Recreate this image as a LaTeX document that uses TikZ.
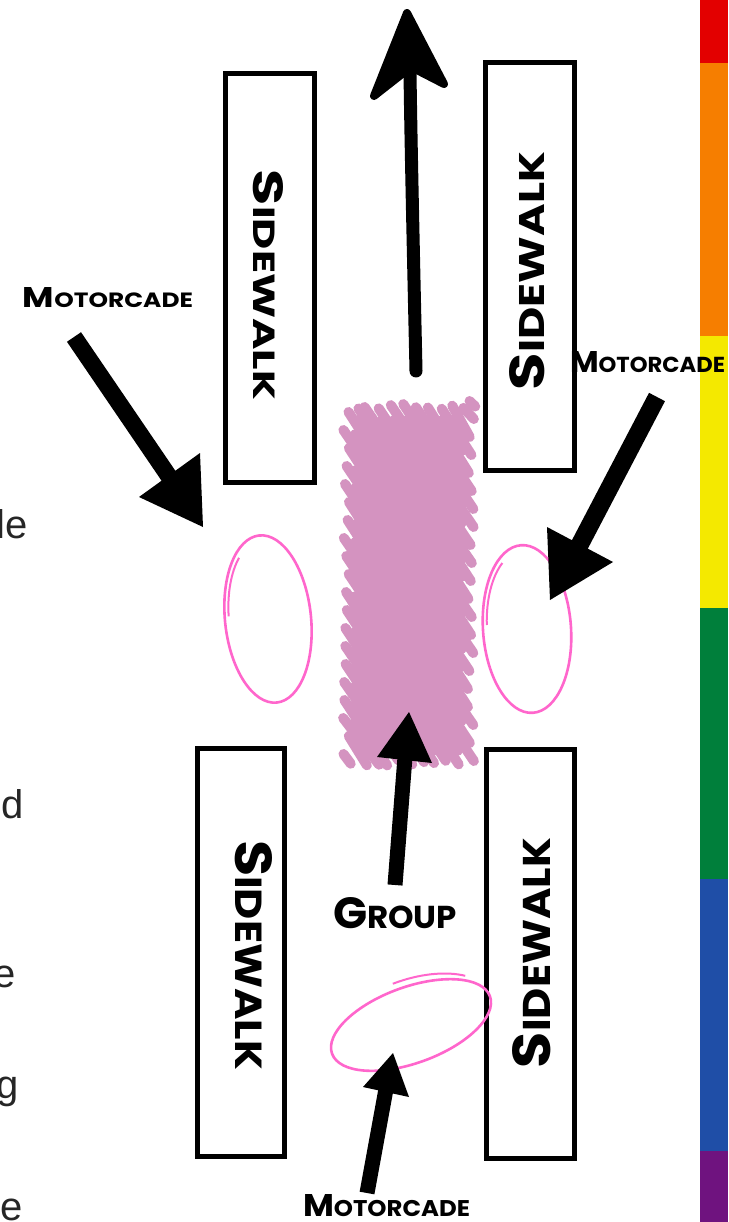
\documentclass[tikz,border=0pt]{standalone}
\usepackage{fontspec}
\usepackage{graphicx}
\usetikzlibrary{calc}
\newfontfamily\handfont{Poppins}
\newfontfamily\plainfont{Liberation Sans}
\definecolor{rbred}{HTML}{E30000}
\definecolor{rborange}{HTML}{F67E00}
\definecolor{rbyellow}{HTML}{F4E900}
\definecolor{rbgreen}{HTML}{007F3B}
\definecolor{rbblue}{HTML}{1F4EA7}
\definecolor{rbpurple}{HTML}{6F137F}
\definecolor{circpink}{HTML}{FF66CC}
\definecolor{grouppink}{HTML}{D493C0}
\newcommand\smcaps[2]{{\fontsize{40pt}{40pt}\selectfont #1}{\fontsize{29pt}{29pt}\selectfont #2}}
\tikzset{
  walk/.style={draw=black, line width=5pt, fill=white, inner sep=0pt, outer sep=0pt},
  hand/.style={inner sep=0pt, outer sep=0pt, font=\handfont\bfseries},
  sidetxt/.style={inner sep=0pt, outer sep=0pt, font=\plainfont\fontsize{40pt}{40pt}\selectfont, text=black!85},
  pinkline/.style={draw=circpink, line width=2.6pt},
  scrib/.style={draw=grouppink, line width=10pt, line cap=round},
  shaft/.style={draw=black, line cap=butt},
}
\begin{document}
\begin{tikzpicture}[x=1pt,y=-1pt]
\useasboundingbox (0,0) rectangle (728,1222);
\fill[white] (0,0) rectangle (728,1222);
% rainbow bar
\fill[rbred] (700,0) rectangle (728,63);
\fill[rborange] (700,63) rectangle (728,336);
\fill[rbyellow] (700,336) rectangle (728,608);
\fill[rbgreen] (700,608) rectangle (728,879);
\fill[rbblue] (700,879) rectangle (728,1151);
\fill[rbpurple] (700,1151) rectangle (728,1222);
% cut-off text at left edge
\node[sidetxt, anchor=base east] (tx1) at (28,538) {le};
\node[sidetxt, anchor=base east] (tx2) at (24,818) {d};
\node[sidetxt, anchor=base east] (tx3) at (16,987) {e};
\node[sidetxt, anchor=base east] (tx4) at (19,1098) {g};
\node[sidetxt, anchor=base east] (tx5) at (23,1220) {e};
% sidewalks
\node[walk, minimum width=89pt, minimum height=409pt] (swTL) at (270,278) {};
\node[walk, minimum width=89pt, minimum height=408pt] (swTR) at (530,266.5) {};
\node[walk, minimum width=87pt, minimum height=408pt] (swBL) at (241,952.5) {};
\node[walk, minimum width=88pt, minimum height=409pt] (swBR) at (530.5,954) {};
\node[hand, rotate=-90] (lSwTL) at (268,285) {\resizebox{230pt}{30pt}{\smcaps{S}{IDEWALK}}};
\node[hand, rotate=90] (lSwTR) at (527.5,271) {\resizebox{238pt}{35pt}{\smcaps{S}{IDEWALK}}};
\node[hand, rotate=-90] (lSwBL) at (253.5,955) {\resizebox{230pt}{37pt}{\smcaps{S}{IDEWALK}}};
\node[hand, rotate=90] (lSwBR) at (532,953) {\resizebox{230pt}{38pt}{\smcaps{S}{IDEWALK}}};
% group scribble: edge strokes
\pgfmathsetseed{7}
\foreach \c in {214,232,...,760} {
  \pgfmathsetmacro\ys{max(407+rand*4,\c)}
  \pgfmathsetmacro\xs{346+(\ys-\c)*0.668+rand*3}
  \pgfmathsetmacro\ye{min(764+rand*4,\c+187)}
  \pgfmathsetmacro\xe{346+(\ye-\c)*0.668+rand*3}
  \draw[scrib] (\xs,\ys) -- (\xe,\ye);
}
% group scribble: inner strokes
\foreach \c in {223,241,...,760} {
  \pgfmathsetmacro\ys{max(407,\c)}
  \pgfmathsetmacro\xs{346+(\ys-\c)*0.668}
  \pgfmathsetmacro\ye{min(764,\c+187)}
  \pgfmathsetmacro\xe{346+(\ye-\c)*0.668}
  \pgfmathsetmacro\len{veclen(\xe-\xs,\ye-\ys)}
  \ifdim\len pt>44pt
    \draw[scrib] ($(\xs,\ys)!16pt!(\xe,\ye)$) -- ($(\xe,\ye)!16pt!(\xs,\ys)$);
  \fi
}
% ellipses (motorcade positions)
\draw[pinkline, rotate around={6:(268,619)}] (268,619) ellipse [x radius=43, y radius=84];
\draw[pinkline, line width=2pt, rotate around={6:(268,619)}] ($(268,619)+(185:39 and 78)$) arc[start angle=185, end angle=235, x radius=39, y radius=78];
\draw[pinkline, rotate around={4:(527,629)}] (527,629) ellipse [x radius=44, y radius=84];
\draw[pinkline, line width=2pt, rotate around={4:(527,629)}] ($(527,629)+(185:40 and 78)$) arc[start angle=185, end angle=240, x radius=40, y radius=78];
\draw[pinkline, rotate around={20:(411,1025)}] (411,1025) ellipse [x radius=84, y radius=38];
\draw[pinkline, line width=2pt, rotate around={20:(411,1025)}] ($(411,1025)+(268:86 and 45)$) arc[start angle=268, end angle=322, x radius=86, y radius=45];
% labels
\node[hand] (lMcTL) at (108,298) {\resizebox{170pt}{20pt}{\smcaps{M}{OTORCADE}}};
\node[hand] (lMcR) at (647.5,362.5) {\resizebox{155pt}{21pt}{\smcaps{M}{OTORCADE}}};
\node[hand] (lMcB) at (386.5,1206) {\resizebox{167pt}{22pt}{\smcaps{M}{OTORCADE}}};
\node[hand] (lGrp) at (395,913.5) {\resizebox{124pt}{31pt}{\smcaps{G}{ROUP}}};
% arrow 1: top-left motorcade
\coordinate (a1tail) at (74,337);
\coordinate (a1base) at (170,478);
\coordinate (a1tip) at (203,527);
\coordinate (a1l) at (139,497);
\coordinate (a1r) at (200,453);
\draw[shaft, line width=17pt] (a1tail) -- (a1base);
\fill (a1tip) -- (a1l) -- (a1r) -- cycle;
% arrow 2: right motorcade
\coordinate (a2tail) at (657,397);
\coordinate (a2base) at (578,548);
\coordinate (a2tip) at (550,600);
\coordinate (a2l) at (547,527);
\coordinate (a2r) at (613,562);
\draw[shaft, line width=18pt] (a2tail) -- (a2base);
\fill (a2tip) -- (a2l) -- (a2r) -- cycle;
% arrow 3: group
\coordinate (a3tail) at (395,885);
\coordinate (a3base) at (405,757);
\coordinate (a3tip) at (409,712);
\coordinate (a3l) at (377,757);
\coordinate (a3r) at (432,763);
\draw[shaft, line width=15pt] (a3tail) -- (a3base);
\fill (a3tip) -- (a3l) -- (a3r) -- cycle;
% arrow 4: bottom motorcade
\coordinate (a4tail) at (367,1193);
\coordinate (a4base) at (386,1089);
\coordinate (a4tip) at (393,1053);
\coordinate (a4l) at (363,1087);
\coordinate (a4r) at (409,1097);
\draw[shaft, line width=15pt] (a4tail) -- (a4base);
\fill (a4tip) -- (a4l) -- (a4r) -- cycle;
% arrow 5: direction of travel
\coordinate (a5tail) at (416,371);
\coordinate (a5base) at (410,72);
\draw[line width=13pt, line cap=round] (a5tail) .. controls (414,280) and (411,150) .. (a5base);
\filldraw[line width=8pt, line join=round] (407,13) -- (444,84) -- (411,67) -- (374,96) -- cycle;
\end{tikzpicture}
\end{document}
